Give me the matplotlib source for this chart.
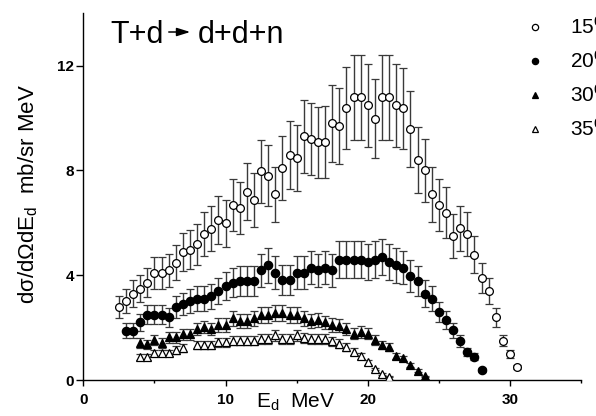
import matplotlib
matplotlib.use("Agg")
import matplotlib.pyplot as plt
from matplotlib.lines import Line2D
from matplotlib.patches import FancyArrowPatch
from matplotlib.ticker import MultipleLocator

plt.rcParams['font.family'] = ['Liberation Sans', 'DejaVu Sans']
plt.rcParams['mathtext.fontset'] = 'custom'
plt.rcParams['mathtext.rm'] = 'Liberation Sans'
plt.rcParams['mathtext.it'] = 'Liberation Sans:italic'
plt.rcParams['mathtext.bf'] = 'Liberation Sans:bold'

# ---------------- data ----------------
e15 = [2.5, 3.0, 3.5, 4.0, 4.5, 5.0, 5.5, 6.0, 6.5, 7.0, 7.5, 8.0, 8.5, 9.0, 9.5,
       10.0, 10.5, 11.0, 11.5, 12.0, 12.5, 13.0, 13.5, 14.0, 14.5, 15.0, 15.5,
       16.0, 16.5, 17.0, 17.5, 18.0, 18.5, 19.0, 19.5, 20.0, 20.5, 21.0, 21.5,
       22.0, 22.5, 23.0, 23.5, 24.0, 24.5, 25.0, 25.5, 26.0, 26.5, 27.0, 27.5,
       28.0, 28.5, 29.0, 29.5, 30.0, 30.5]
y15 = [2.79, 3.02, 3.30, 3.49, 3.71, 4.09, 4.09, 4.19, 4.48, 4.89, 4.98, 5.18,
       5.59, 5.78, 6.10, 5.99, 6.69, 6.58, 7.19, 6.88, 7.97, 7.80, 7.09, 8.09,
       8.58, 8.48, 9.30, 9.19, 9.08, 9.09, 9.80, 9.69, 10.39, 10.79, 10.79,
       10.48, 9.98, 10.79, 10.79, 10.48, 10.37, 9.59, 8.39, 8.00, 7.09, 6.68,
       6.39, 5.50, 5.79, 5.59, 4.79, 3.90, 3.40, 2.39, 1.50, 0.98, 0.51]
err15 = [0.42, 0.45, 0.50, 0.52, 0.56, 0.61, 0.61, 0.63, 0.67, 0.73, 0.75, 0.78,
         0.84, 0.87, 0.92, 0.90, 1.00, 0.99, 1.08, 1.03, 1.20, 1.17, 1.06, 1.21,
         1.29, 1.27, 1.40, 1.38, 1.36, 1.36, 1.47, 1.45, 1.56, 1.62, 1.62, 1.57,
         1.50, 1.62, 1.62, 1.57, 1.56, 1.44, 1.26, 1.20, 1.06, 1.00, 0.96, 0.83,
         0.87, 0.84, 0.72, 0.58, 0.50, 0.36, 0.22, 0.15, 0.08]

e20 = [3.0, 3.5, 4.0, 4.5, 5.0, 5.5, 6.0, 6.5, 7.0, 7.5, 8.0, 8.5, 9.0, 9.5,
       10.0, 10.5, 11.0, 11.5, 12.0, 12.5, 13.0, 13.5, 14.0, 14.5, 15.0, 15.5,
       16.0, 16.5, 17.0, 17.5, 18.0, 18.5, 19.0, 19.5, 20.0, 20.5, 21.0, 21.5,
       22.0, 22.5, 23.0, 23.5, 24.0, 24.5, 25.0, 25.5, 26.0, 26.5, 27.0, 27.5,
       28.0]
y20 = [1.88, 1.88, 2.20, 2.50, 2.50, 2.50, 2.39, 2.79, 2.90, 3.01, 3.11, 3.11,
       3.20, 3.40, 3.58, 3.71, 3.78, 3.78, 3.78, 4.19, 4.38, 4.10, 3.81, 3.81,
       4.10, 4.10, 4.29, 4.19, 4.29, 4.19, 4.60, 4.60, 4.60, 4.60, 4.51, 4.60,
       4.70, 4.51, 4.38, 4.29, 3.97, 3.78, 3.30, 3.11, 2.60, 2.29, 1.90, 1.49,
       1.08, 0.89, 0.38]
err20 = [0.28, 0.28, 0.33, 0.37, 0.37, 0.37, 0.36, 0.42, 0.43, 0.45, 0.47, 0.47,
         0.48, 0.51, 0.54, 0.56, 0.57, 0.57, 0.57, 0.63, 0.66, 0.62, 0.57, 0.57,
         0.62, 0.62, 0.64, 0.63, 0.64, 0.63, 0.69, 0.69, 0.69, 0.69, 0.68, 0.69,
         0.70, 0.68, 0.66, 0.64, 0.60, 0.57, 0.50, 0.47, 0.39, 0.34, 0.28, 0.22,
         0.16, 0.13, 0.06]

e30 = [4.0, 4.5, 5.0, 5.5, 6.0, 6.5, 7.0, 7.5, 8.0, 8.5, 9.0, 9.5, 10.0, 10.5,
       11.0, 11.5, 12.0, 12.5, 13.0, 13.5, 14.0, 14.5, 15.0, 15.5, 16.0, 16.5,
       17.0, 17.5, 18.0, 18.5, 19.0, 19.5, 20.0, 20.5, 21.0, 21.5, 22.0, 22.5,
       23.0, 23.5, 24.0]
y30 = [1.42, 1.36, 1.52, 1.42, 1.63, 1.63, 1.74, 1.74, 1.93, 2.03, 1.93, 2.10,
       2.10, 2.35, 2.26, 2.26, 2.35, 2.48, 2.48, 2.56, 2.56, 2.48, 2.48, 2.35,
       2.26, 2.29, 2.20, 2.10, 2.08, 1.95, 1.77, 1.84, 1.77, 1.52, 1.33, 1.26,
       0.92, 0.83, 0.57, 0.36, 0.14]
err30 = [0.18, 0.17, 0.19, 0.18, 0.20, 0.20, 0.21, 0.21, 0.23, 0.24, 0.23, 0.25,
         0.25, 0.28, 0.27, 0.27, 0.28, 0.30, 0.30, 0.31, 0.31, 0.30, 0.30, 0.28,
         0.27, 0.27, 0.26, 0.25, 0.25, 0.23, 0.21, 0.22, 0.21, 0.18, 0.16, 0.15,
         0.11, 0.10, 0.07, 0.05, 0.03]

e35 = [4.0, 4.5, 5.0, 5.5, 6.0, 6.5, 7.0, 8.0, 8.5, 9.0, 9.5, 10.0, 10.5, 11.0,
       11.5, 12.0, 12.5, 13.0, 13.5, 14.0, 14.5, 15.0, 15.5, 16.0, 16.5, 17.0,
       17.5, 18.0, 18.5, 19.0, 19.5, 20.0, 20.5, 21.0, 21.5]
y35 = [0.89, 0.89, 1.02, 1.02, 1.02, 1.14, 1.21, 1.33, 1.33, 1.33, 1.44, 1.44,
       1.50, 1.50, 1.50, 1.50, 1.55, 1.55, 1.70, 1.55, 1.55, 1.70, 1.62, 1.58,
       1.55, 1.55, 1.48, 1.38, 1.25, 1.08, 0.92, 0.67, 0.42, 0.22, 0.12]
err35 = [0.11, 0.11, 0.12, 0.12, 0.12, 0.14, 0.15, 0.16, 0.16, 0.16, 0.17, 0.17,
         0.18, 0.18, 0.18, 0.18, 0.19, 0.19, 0.20, 0.19, 0.19, 0.20, 0.19, 0.19,
         0.19, 0.19, 0.18, 0.17, 0.15, 0.13, 0.11, 0.08, 0.05, 0.03, 0.02]

legend_labels = ["15$^\\mathrm{0}$", "20$^\\mathrm{0}$", "30$^\\mathrm{0}$", "35$^\\mathrm{0}$"]
x_ticks = [0, 10, 20, 30]
y_ticks = [0, 4, 8, 12]

# ---------------- figure ----------------
W, H = 596, 416
fig = plt.figure(figsize=(W / 100, H / 100), dpi=100)
ax = fig.add_axes([83.3 / W, 1 - 380 / H, (581.1 - 83.3) / W, (380 - 13.3) / H])

ecol = '#3a3a3a'
common = dict(linestyle='none', ecolor=ecol, elinewidth=1.0, capsize=3.2,
              capthick=1.0, zorder=3)

ax.errorbar(e35, y35, yerr=err35, marker='^', ms=6.3, mfc='white', mec='black',
            mew=0.9, **common)
ax.errorbar(e30, y30, yerr=err30, marker='^', ms=6.3, mfc='black', mec='black',
            mew=0.9, **common)
ax.errorbar(e20, y20, yerr=err20, marker='o', ms=6.0, mfc='black', mec='black',
            mew=0.9, **common)
ax.errorbar(e15, y15, yerr=err15, marker='o', ms=5.6, mfc='white', mec='black',
            mew=0.9, **common)

ax.set_xlim(0, 35)
ax.set_ylim(0, 14)
ax.set_xticks(x_ticks)
ax.set_yticks(y_ticks)
ax.xaxis.set_minor_locator(MultipleLocator(5))
for s in ['top', 'right']:
    ax.spines[s].set_visible(False)
for s in ['left', 'bottom']:
    ax.spines[s].set_linewidth(1.0)
ax.tick_params(axis='x', which='major', direction='out', length=4, width=1.0,
               pad=5, labelsize=11)
ax.tick_params(axis='x', which='minor', direction='out', length=2.5, width=1.0)
ax.tick_params(axis='y', which='major', direction='out', length=5, width=1.0,
               pad=1.5, labelsize=11)
for lab in ax.get_xticklabels() + ax.get_yticklabels():
    lab.set_fontweight('bold')

# axis labels
fig.text(296 / W, 1 - 408 / H, "E$_\\mathrm{d}$  MeV", fontsize=15,
         ha='center', va='baseline')
fig.text(28 / W, 1 - 194 / H, "d\u03c3/d\u03a9dE$_\\mathrm{d}$  mb/sr MeV",
         fontsize=16, rotation=90, ha='center', va='center')

# reaction title
fig.text(110 / W, 1 - 43 / H, "T+d", fontsize=22, ha='left', va='baseline')
fig.text(198 / W, 1 - 43 / H, "d+d+n", fontsize=22, ha='left', va='baseline')
fig.add_artist(FancyArrowPatch(
    (166 / W, 1 - 32 / H), (193 / W, 1 - 32 / H), transform=fig.transFigure,
    arrowstyle='-|>,head_length=0.8,head_width=0.25', mutation_scale=10,
    lw=1.1, color='black'))

# legend
handles = [
    Line2D([], [], linestyle='none', marker='o', ms=4.5, mfc='white', mec='black', mew=0.9),
    Line2D([], [], linestyle='none', marker='o', ms=4.5, mfc='black', mec='black', mew=0.9),
    Line2D([], [], linestyle='none', marker='^', ms=5, mfc='black', mec='black', mew=0.9),
    Line2D([], [], linestyle='none', marker='^', ms=5, mfc='white', mec='black', mew=0.9),
]
fig.legend(handles, legend_labels, loc='upper left',
           bbox_to_anchor=(524.6 / W, 1 - 16 / H), frameon=False, fontsize=15,
           handlelength=1.0, handletextpad=1.2, labelspacing=0.58,
           borderpad=0, borderaxespad=0)

fig.savefig("out.png", dpi=100)
